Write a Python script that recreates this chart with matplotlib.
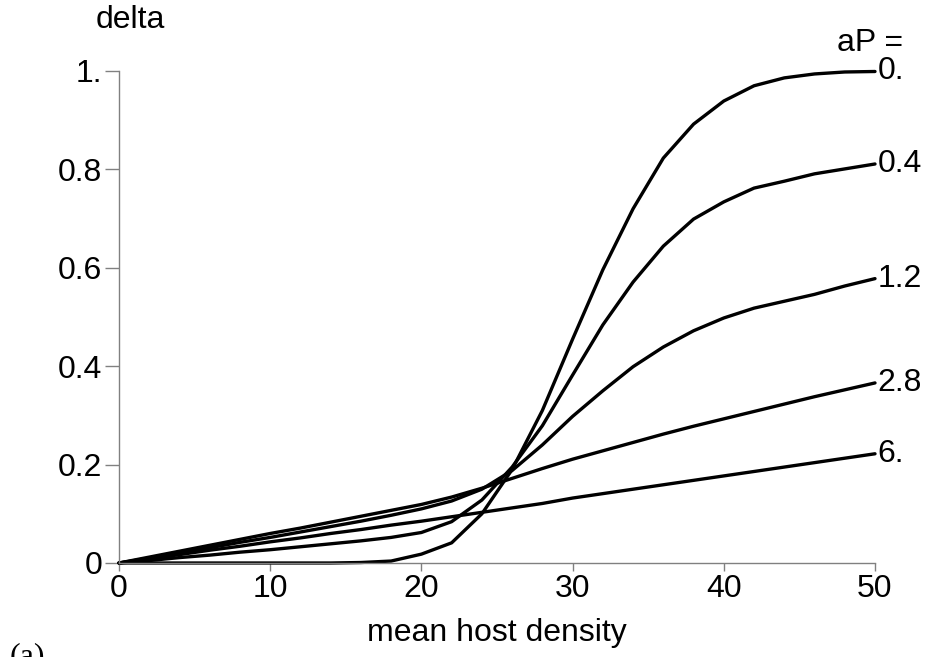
import matplotlib
matplotlib.use("Agg")
import matplotlib.pyplot as plt
import numpy as np

plt.rcParams['font.family'] = ['Liberation Sans', 'DejaVu Sans']

density = list(range(0, 51, 2))
labels = ["0.", "0.4", "1.2", "2.8", "6."]
delta_ap0 = [0, 0, 0, 0, 0, 0, 0, 0, 0.001, 0.004, 0.018, 0.041, 0.10, 0.19, 0.31,
             0.455, 0.596, 0.72, 0.823, 0.892, 0.939, 0.970, 0.986, 0.994, 0.998, 0.999]
delta_ap04 = [0, 0.005, 0.011, 0.016, 0.022, 0.027, 0.033, 0.039, 0.045, 0.052, 0.062,
              0.084, 0.128, 0.195, 0.279, 0.382, 0.484, 0.571, 0.644, 0.699, 0.734,
              0.762, 0.776, 0.791, 0.801, 0.811]
delta_ap12 = [0, 0.010, 0.021, 0.031, 0.042, 0.052, 0.063, 0.074, 0.085, 0.097, 0.110,
              0.126, 0.150, 0.188, 0.240, 0.298, 0.350, 0.399, 0.439, 0.472, 0.498,
              0.518, 0.532, 0.546, 0.563, 0.578]
delta_ap28 = [0, 0.012, 0.024, 0.036, 0.048, 0.060, 0.071, 0.083, 0.095, 0.107, 0.119,
              0.134, 0.152, 0.172, 0.192, 0.211, 0.228, 0.245, 0.262, 0.278, 0.293,
              0.308, 0.323, 0.338, 0.352, 0.366]
delta_ap6 = [0, 0.0085, 0.017, 0.026, 0.034, 0.043, 0.051, 0.060, 0.068, 0.077, 0.085,
             0.094, 0.103, 0.112, 0.121, 0.132, 0.141, 0.150, 0.159, 0.168, 0.177,
             0.186, 0.195, 0.204, 0.213, 0.222]
series = [delta_ap0, delta_ap04, delta_ap12, delta_ap28, delta_ap6]

FS = 23
W, H = 933, 657
fig = plt.figure(figsize=(W / 100, H / 100), dpi=100)
ax = fig.add_axes([119 / W, 94 / H, (875 - 119) / W, (563 - 71) / H])

for ys, lab in zip(series, labels):
    ax.plot(density, ys, color='black', lw=2.4, solid_capstyle='round',
            solid_joinstyle='round', clip_on=False)
    ax.annotate(lab, xy=(density[-1], ys[-1]), xytext=(2, 0), textcoords='offset points',
                ha='left', va='center', fontsize=FS, annotation_clip=False)

ax.text(49.7, 1.057, "aP =", ha='center', va='center', fontsize=FS, clip_on=False)

ax.set_xlim(0, 50)
ax.set_ylim(0, 1)
ax.set_xticks([0, 10, 20, 30, 40, 50])
ax.set_xticklabels(["0", "10", "20", "30", "40", "50"])
ax.set_yticks([0, 0.2, 0.4, 0.6, 0.8, 1.0])
ax.set_yticklabels(["0", "0.2", "0.4", "0.6", "0.8", "1."])
for s in ['top', 'right']:
    ax.spines[s].set_visible(False)
for s in ['left', 'bottom']:
    ax.spines[s].set_color('#808080')
    ax.spines[s].set_linewidth(1.0)
ax.tick_params(axis='both', direction='out', width=1.0, color='#808080',
               labelsize=FS, labelcolor='black', pad=2)
ax.tick_params(axis='y', length=10)
ax.tick_params(axis='x', length=6)

fig.text(130 / W, 1 - 20 / H, "delta", ha='center', va='center', fontsize=FS)
fig.text(497 / W, 1 - 633 / H, "mean host density", ha='center', va='center', fontsize=FS)
fig.text(10 / W, 1 - 642 / H, "(a)", ha='left', va='top', fontsize=FS,
         family=['Liberation Serif', 'DejaVu Serif'])

fig.savefig("out.png", dpi=100)
